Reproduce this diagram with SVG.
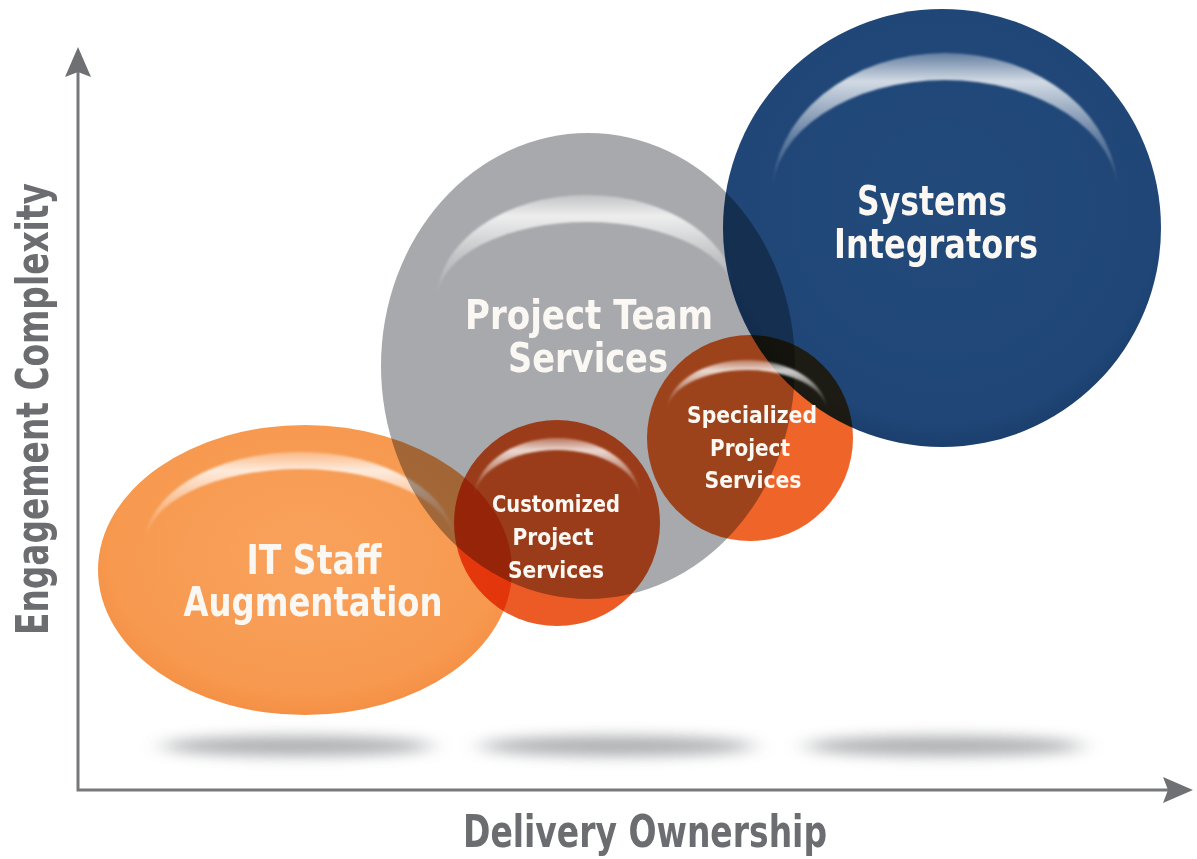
<svg xmlns="http://www.w3.org/2000/svg" width="1197" height="859" viewBox="0 0 1197 859">
  <defs>
    <style>
      .lbl{font-family:"Liberation Sans Narrow","DejaVu Sans Condensed","Liberation Sans",Arial,sans-serif;font-weight:bold;fill:#fbf8f4;text-anchor:middle}
      .big{font-size:40px}
      .small{font-size:23px}
      .axis-title{font-family:"Liberation Sans Narrow","DejaVu Sans Condensed","Liberation Sans",Arial,sans-serif;font-weight:bold;font-size:45px;fill:#6b6d70;text-anchor:middle}
      .disc{mix-blend-mode:multiply}
      .gloss{fill:url(#gloss);filter:url(#soften)}
      .axis{fill:none;stroke:#77787b;stroke-width:3}
      .shadow{fill:#9fa1a4;opacity:0.85;filter:url(#floorBlur)}
    </style>
    <linearGradient id="gloss" x1="0" y1="0" x2="0" y2="1">
      <stop offset="0" stop-color="#fff" stop-opacity="0.3"/>
      <stop offset="0.2" stop-color="#fff" stop-opacity="0.8"/>
      <stop offset="0.6" stop-color="#fff" stop-opacity="0.3"/>
      <stop offset="1" stop-color="#fff" stop-opacity="0"/>
    </linearGradient>
    <radialGradient id="orangeFill" cx="0.5" cy="0.45" r="0.55">
      <stop offset="0" stop-color="#f9a25d"/>
      <stop offset="0.85" stop-color="#f7994f"/>
      <stop offset="1" stop-color="#f49045"/>
    </radialGradient>
    <radialGradient id="blueFill" cx="0.5" cy="0.45" r="0.55">
      <stop offset="0" stop-color="#224a7b"/>
      <stop offset="0.9" stop-color="#1f4677"/>
      <stop offset="1" stop-color="#1b3f6d"/>
    </radialGradient>
    <filter id="soften" x="-10%" y="-20%" width="120%" height="140%">
      <feGaussianBlur stdDeviation="1.2"/>
    </filter>
    <filter id="floorBlur" x="-30%" y="-300%" width="160%" height="700%">
      <feGaussianBlur stdDeviation="12 7"/>
    </filter>
    <marker id="arrowHead" viewBox="0 0 30 26" markerUnits="userSpaceOnUse" markerWidth="30" markerHeight="26" refX="22" refY="13" orient="auto-start-reverse">
      <path d="M0,0 L30,13 L0,26 L5,13 Z" fill="#6f7073"/>
    </marker>
  </defs>

  <rect width="1197" height="859" fill="#ffffff"/>

  <!-- soft floor shadows under the bubbles -->
  <g id="floor-shadows">
    <ellipse class="shadow" cx="297" cy="746" rx="135" ry="10"/>
    <ellipse class="shadow" cx="617" cy="746" rx="137" ry="10"/>
    <ellipse class="shadow" cx="944" cy="746" rx="139" ry="10"/>
  </g>

  <!-- axes -->
  <g id="axes">
    <polyline class="axis" points="78,55 78,790 1185,790" marker-start="url(#arrowHead)" marker-end="url(#arrowHead)"/>
    <text class="axis-title" x="645" y="847" textLength="364" lengthAdjust="spacingAndGlyphs">Delivery Ownership</text>
    <text class="axis-title" transform="rotate(-90)" x="-409" y="48" textLength="452" lengthAdjust="spacingAndGlyphs">Engagement Complexity</text>
  </g>

  <g id="it-staff-augmentation">
    <ellipse cx="305" cy="570" rx="207" ry="145" fill="url(#orangeFill)"/>
    <path class="gloss" d="M145,545 A155,93 0 0 1 455,545 A155,76 0 0 0 145,545 Z"/>
    <text class="lbl big" x="314" y="574" textLength="135" lengthAdjust="spacingAndGlyphs">IT Staff</text>
    <text class="lbl big" x="313" y="616" textLength="259" lengthAdjust="spacingAndGlyphs">Augmentation</text>
  </g>

  <g id="project-team-services">
    <ellipse class="disc" cx="588" cy="366" rx="207" ry="233" fill="#a7a9ac"/>
    <path class="gloss" d="M437,300 A150,105 0 0 1 737,300 A150,78 0 0 0 437,300 Z"/>
    <text class="lbl big" x="589" y="329" textLength="248" lengthAdjust="spacingAndGlyphs">Project Team</text>
    <text class="lbl big" x="588" y="372" textLength="160" lengthAdjust="spacingAndGlyphs">Services</text>
  </g>

  <g id="systems-integrators">
    <circle class="disc" cx="942" cy="228" r="219" fill="url(#blueFill)"/>
    <path class="gloss" d="M772,195 A173,142 0 0 1 1118,195 A173,115 0 0 0 772,195 Z"/>
    <text class="lbl big" x="932" y="215" textLength="150" lengthAdjust="spacingAndGlyphs">Systems</text>
    <text class="lbl big" x="936" y="258" textLength="204" lengthAdjust="spacingAndGlyphs">Integrators</text>
  </g>

  <g id="customized-project-services">
    <circle class="disc" cx="557" cy="523" r="103" fill="#ec5a25"/>
    <path class="gloss" d="M474,500 A83,62 0 0 1 640,500 A83,50 0 0 0 474,500 Z"/>
    <text class="lbl small" x="556" y="512" textLength="128" lengthAdjust="spacingAndGlyphs">Customized</text>
    <text class="lbl small" x="553" y="545" textLength="81" lengthAdjust="spacingAndGlyphs">Project</text>
    <text class="lbl small" x="556" y="578" textLength="96" lengthAdjust="spacingAndGlyphs">Services</text>
  </g>

  <g id="specialized-project-services">
    <circle class="disc" cx="750" cy="438" r="103" fill="#ef6429"/>
    <path class="gloss" d="M667,412 A80,52 0 0 1 827,412 A80,42 0 0 0 667,412 Z"/>
    <text class="lbl small" x="752" y="423" textLength="130" lengthAdjust="spacingAndGlyphs">Specialized</text>
    <text class="lbl small" x="750" y="456" textLength="80" lengthAdjust="spacingAndGlyphs">Project</text>
    <text class="lbl small" x="753" y="488" textLength="97" lengthAdjust="spacingAndGlyphs">Services</text>
  </g>
</svg>
